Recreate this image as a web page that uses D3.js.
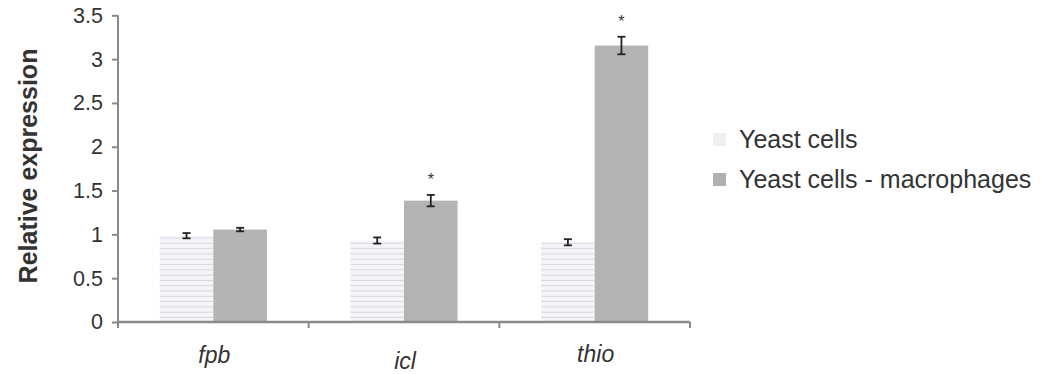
<!DOCTYPE html>
<html>
<head>
<meta charset="utf-8">
<script src="https://cdn.jsdelivr.net/npm/d3@7"></script>
<style>
  body { margin: 0; background: #fff; }
  text { font-family: Arial, "Liberation Sans", sans-serif; fill: #333; }
</style>
</head>
<body>
<div id="container"></div>
<script>
// chart data
const genes = ["fpb", "icl", "thio"];
const seriesNames = ["Yeast cells", "Yeast cells - macrophages"];
const yeastValues = [0.985, 0.93, 0.91];
const yeastErrors = [0.03, 0.035, 0.035];
const macroValues = [1.055, 1.385, 3.155];
const macroErrors = [0.02, 0.065, 0.1];
const macroSignificant = [false, true, true];
const yTicks = [0, 0.5, 1, 1.5, 2, 2.5, 3, 3.5];
// the gene labels sit a little uneven in the original
const labelShift = [0, 6, -1];

const W = 1046, H = 374;
const plotLeft = 118, plotRight = 690, plotTop = 15.3, plotBottom = 322;

const svg = d3.select("#container").append("svg")
    .attr("width", W)
    .attr("height", H);

const defs = svg.append("defs");
const pat = defs.append("pattern")
    .attr("id", "stripes")
    .attr("patternUnits", "userSpaceOnUse")
    .attr("width", 6)
    .attr("height", 5.3);
pat.append("rect").attr("width", 6).attr("height", 5.3).attr("fill", "#f5f5f8");
pat.append("rect").attr("y", 4.3).attr("width", 6).attr("height", 1).attr("fill", "#d6d6e8");

// scales
const x0 = d3.scaleBand().domain(genes).range([plotLeft, plotRight]);
const x1 = d3.scaleBand().domain(seriesNames).range([0, x0.bandwidth()]).paddingOuter(0.78);
const y = d3.scaleLinear().domain([0, 3.5]).range([plotBottom, plotTop]);

const rows = genes.map((g, i) => ({
    gene: g,
    bars: [
        {s: seriesNames[0], v: yeastValues[i], e: yeastErrors[i], sig: false},
        {s: seriesNames[1], v: macroValues[i], e: macroErrors[i], sig: macroSignificant[i]}
    ]
}));

// bars
const groups = svg.append("g").selectAll("g")
    .data(rows)
    .join("g")
    .attr("transform", d => `translate(${x0(d.gene)},0)`);

groups.selectAll("rect")
    .data(d => d.bars)
    .join("rect")
    .attr("x", d => x1(d.s))
    .attr("y", d => y(d.v))
    .attr("width", x1.bandwidth())
    .attr("height", d => y(0) - y(d.v))
    .attr("fill", (d, i) => i === 0 ? "url(#stripes)" : "#b3b3b3");

// error bars
const err = groups.selectAll("g.err")
    .data(d => d.bars)
    .join("g")
    .attr("class", "err")
    .attr("stroke", "#222")
    .attr("stroke-width", 1.8);
const cx = d => x1(d.s) + x1.bandwidth() / 2;
err.append("line")
    .attr("x1", cx).attr("x2", cx)
    .attr("y1", d => y(d.v + d.e)).attr("y2", d => y(d.v - d.e));
err.append("line")
    .attr("x1", d => cx(d) - 4).attr("x2", d => cx(d) + 4)
    .attr("y1", d => y(d.v + d.e)).attr("y2", d => y(d.v + d.e));
err.append("line")
    .attr("x1", d => cx(d) - 4).attr("x2", d => cx(d) + 4)
    .attr("y1", d => y(d.v - d.e)).attr("y2", d => y(d.v - d.e));

// significance stars
groups.selectAll("text.star")
    .data(d => d.bars.filter(b => b.sig))
    .join("text")
    .attr("class", "star")
    .attr("x", cx)
    .attr("y", d => y(d.v + d.e) - 10)
    .attr("text-anchor", "middle")
    .attr("font-size", 16)
    .attr("fill", "#222")
    .text("*");

// y axis
const yAxis = svg.append("g")
    .attr("transform", `translate(${plotLeft},0)`)
    .call(d3.axisLeft(y).tickValues(yTicks).tickFormat(d3.format("")).tickSize(6).tickPadding(9));
yAxis.select(".domain").attr("stroke", "#8a8a8a").attr("stroke-width", 2)
    .attr("d", `M0,${plotTop}V${plotBottom + 5}`);
yAxis.selectAll(".tick line").attr("stroke", "#8a8a8a").attr("stroke-width", 2);
yAxis.selectAll(".tick text").attr("font-size", 21.5).attr("fill", "#333")
    .style("font-family", "Arial, 'Liberation Sans', sans-serif");

// x axis
const edges = genes.map(g => x0(g)).concat([plotRight]);
const xAxis = svg.append("g");
xAxis.append("line")
    .attr("x1", plotLeft).attr("x2", plotRight)
    .attr("y1", y(0)).attr("y2", y(0))
    .attr("stroke", "#8a8a8a").attr("stroke-width", 2.5);
xAxis.selectAll("line.tk")
    .data(edges)
    .join("line")
    .attr("class", "tk")
    .attr("x1", d => d).attr("x2", d => d)
    .attr("y1", y(0)).attr("y2", y(0) + 6)
    .attr("stroke", "#8a8a8a").attr("stroke-width", 2);
xAxis.selectAll("text")
    .data(genes)
    .join("text")
    .attr("x", d => x0(d) + x0.bandwidth() / 2 + 1)
    .attr("y", (d, i) => y(0) + 41 + labelShift[i])
    .attr("text-anchor", "middle")
    .attr("font-size", 23)
    .attr("font-style", "italic")
    .text(d => d);

// y title
svg.append("text")
    .attr("transform", `translate(37,166) rotate(-90)`)
    .attr("text-anchor", "middle")
    .attr("font-size", 25)
    .attr("font-weight", "bold")
    .attr("fill", "#333")
    .text("Relative expression");

// legend
const legend = svg.append("g").attr("transform", "translate(713,133)");
const li = legend.selectAll("g")
    .data(seriesNames)
    .join("g")
    .attr("transform", (d, i) => `translate(0,${i * 40})`);
li.append("rect")
    .attr("width", 13).attr("height", 13)
    .attr("fill", (d, i) => i === 0 ? "#eeeef3" : "#b0b0b0");
li.append("text")
    .attr("x", 26)
    .attr("y", 15)
    .attr("font-size", 25)
    .text(d => d);
</script>
</body>
</html>
